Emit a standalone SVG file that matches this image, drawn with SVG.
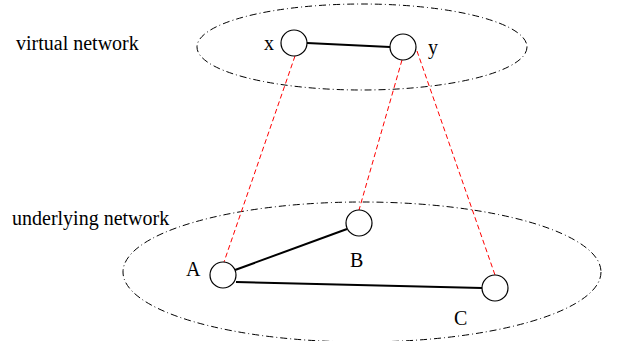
<svg xmlns="http://www.w3.org/2000/svg" width="619" height="341" viewBox="0 0 619 341">
<style>
.net{fill:none;stroke:#000;stroke-width:1;stroke-dasharray:7 3 1 3}
.node{fill:#fff;stroke:#000;stroke-width:1.2}
.edge{stroke:#000;stroke-width:2;fill:none}
.map{stroke:#ff0000;stroke-width:1;stroke-dasharray:5 3;fill:none}
text{font-family:"Liberation Serif","Times New Roman",serif;font-size:20px;fill:#000}
</style>
<rect width="619" height="341" fill="#fff"/>
<g id="virtual-network">
<ellipse class="net" cx="362" cy="47" rx="165" ry="43"/>
<text x="16" y="50">virtual network</text>
</g>
<g id="underlying-network">
<ellipse class="net" cx="362" cy="272" rx="239" ry="70"/>
<text x="12" y="225">underlying network</text>
</g>
<g id="connectors">
<line class="map" x1="295" y1="56" x2="224" y2="262"/>
<line class="map" x1="402" y1="60" x2="359" y2="210"/>
<line class="map" x1="417" y1="51" x2="495" y2="275"/>
<line class="edge" x1="307" y1="43" x2="390" y2="47"/>
<line class="edge" x1="235" y1="270" x2="347" y2="229"/>
<line class="edge" x1="236" y1="282" x2="482" y2="288"/>
</g>
<g id="node-x"><circle class="node" cx="294" cy="43" r="13"/><text x="264" y="50">x</text></g>
<g id="node-y"><circle class="node" cx="403" cy="47" r="13"/><text x="428" y="54">y</text></g>
<g id="node-A"><circle class="node" cx="223" cy="275" r="13"/><text x="186" y="276">A</text></g>
<g id="node-B"><circle class="node" cx="359" cy="223" r="13"/><text x="350" y="267">B</text></g>
<g id="node-C"><circle class="node" cx="495" cy="288" r="13"/><text x="454" y="325">C</text></g>
</svg>
